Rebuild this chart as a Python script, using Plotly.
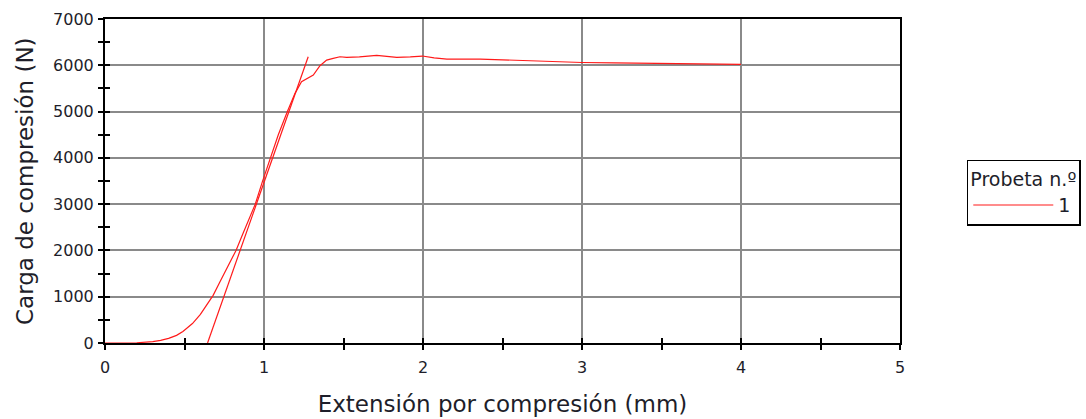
import plotly.graph_objects as go

# ---- data ----
curve_x = [0, 0.1, 0.2, 0.3, 0.35, 0.4, 0.45, 0.49, 0.55, 0.6, 0.64, 0.68, 0.72, 0.76,
           0.8, 0.824, 0.86, 0.885, 0.92, 0.945, 0.99, 1.04, 1.09, 1.147, 1.195, 1.236,
           1.278, 1.31, 1.352, 1.394, 1.435, 1.478, 1.52, 1.6, 1.709, 1.78, 1.835, 1.92,
           1.996, 2.07, 2.15, 2.36, 2.5, 2.67, 2.85, 3.0, 3.2, 3.41, 3.6, 3.8, 4.0]
curve_y = [0, 0, 5, 30, 55, 100, 165, 250, 420, 620, 820, 1030, 1300, 1580,
           1850, 2000, 2300, 2500, 2800, 3000, 3485, 4000, 4500, 5000, 5393, 5645,
           5717, 5788, 5990, 6112, 6150, 6184, 6170, 6180, 6214, 6190, 6170, 6180,
           6200, 6160, 6134, 6134, 6115, 6097, 6075, 6060, 6050, 6040, 6035, 6030, 6020]
tangent_x = [0.645, 1.278]
tangent_y = [0, 6184]

x_ticks = [0, 1, 2, 3, 4, 5]
y_ticks = [0, 1000, 2000, 3000, 4000, 5000, 6000, 7000]
series_name = "1"
legend_title = "Probeta n.º"
x_title = "Extensión por compresión (mm)"
y_title = "Carga de compresión (N)"

RED = "#ff1a1a"
TXT = "#1e1e2a"
tickfont = dict(family="DejaVu Sans", size=16, color=TXT)

fig = go.Figure()
fig.add_trace(go.Scatter(x=curve_x, y=curve_y, mode="lines", name=series_name,
                         line=dict(color=RED, width=1.2)))
fig.add_trace(go.Scatter(x=tangent_x, y=tangent_y, mode="lines", showlegend=False,
                         line=dict(color=RED, width=1.2)))
# invisible trace on overlay axes to produce inward ticks (ticks cross the axis line)
fig.add_trace(go.Scatter(x=[0], y=[0], xaxis="x2", yaxis="y2", mode="markers",
                         marker=dict(opacity=0), showlegend=False, hoverinfo="skip"))

fig.update_layout(
    width=1086, height=419,
    margin=dict(l=105, r=186, t=19, b=76, autoexpand=False),
    plot_bgcolor="white", paper_bgcolor="white",
    xaxis=dict(range=[0, 5], tickvals=x_ticks, ticks="outside", ticklen=5, tickwidth=2,
               tickcolor="black", linecolor="black", linewidth=2, mirror=True,
               showgrid=True, gridcolor="#8a8a8a", gridwidth=1.5, zeroline=False,
               automargin=False,
               minor=dict(dtick=0.5, ticks="outside", ticklen=5, tickwidth=2,
                          tickcolor="black", showgrid=False),
               tickfont=tickfont, ticklabelstandoff=4,
               title=dict(text=x_title, font=dict(family="DejaVu Sans", size=23, color=TXT),
                          standoff=20)),
    yaxis=dict(range=[0, 7000], tickvals=y_ticks, ticks="outside", ticklen=5, tickwidth=2,
               tickcolor="black", linecolor="black", linewidth=2, mirror=True,
               showgrid=True, gridcolor="#8a8a8a", gridwidth=1.5, zeroline=False,
               automargin=False,
               minor=dict(dtick=500, ticks="outside", ticklen=5, tickwidth=2,
                          tickcolor="black", showgrid=False),
               tickfont=tickfont, ticklabelstandoff=1),
    xaxis2=dict(range=[0, 5], overlaying="x", tickvals=x_ticks, ticks="inside",
                ticklen=5, tickwidth=2, tickcolor="black", showticklabels=False,
                showgrid=False, zeroline=False, showline=False,
                minor=dict(dtick=0.5, ticks="inside", ticklen=5, tickwidth=2, tickcolor="black")),
    yaxis2=dict(range=[0, 7000], overlaying="y", tickvals=y_ticks, ticks="inside",
                ticklen=5, tickwidth=2, tickcolor="black", showticklabels=False,
                showgrid=False, zeroline=False, showline=False,
                minor=dict(dtick=500, ticks="inside", ticklen=5, tickwidth=2, tickcolor="black")),
    legend=dict(x=1.084, y=0.565, xanchor="left", yanchor="top",
                bordercolor="black", borderwidth=1.5, bgcolor="white",
                itemwidth=80, tracegroupgap=0,
                font=dict(family="DejaVu Sans", size=19, color=TXT),
                title=dict(text=legend_title, font=dict(family="DejaVu Sans", size=19, color=TXT))),
    showlegend=True,
    annotations=[dict(text=y_title, textangle=-90, xref="paper", yref="paper",
                      x=-80 / 795, y=0.5, xanchor="center", yanchor="middle",
                      showarrow=False,
                      font=dict(family="DejaVu Sans", size=23, color=TXT))],
)

fig.write_html("out.html")
